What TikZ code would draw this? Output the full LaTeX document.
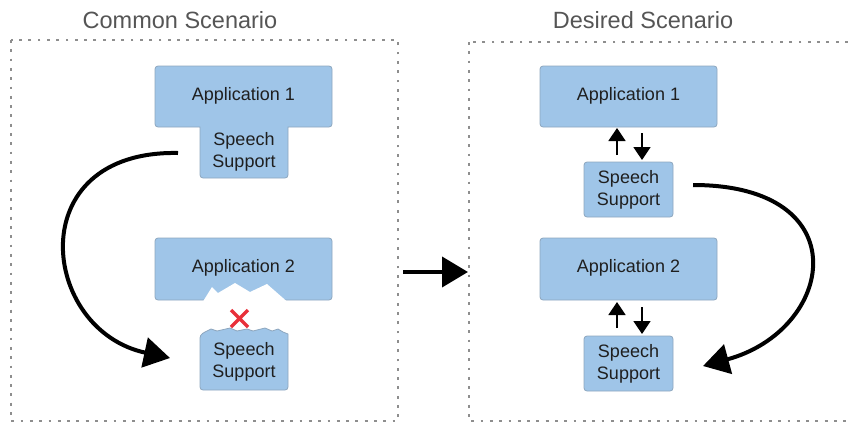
\documentclass[tikz,border=0pt]{standalone}
\usepackage{fontspec}
\setmainfont{Liberation Sans}
\usetikzlibrary{arrows.meta}
\definecolor{boxfill}{HTML}{9FC5E8}
\definecolor{boxline}{HTML}{8DA6BE}
\definecolor{dotgray}{HTML}{8E8E8E}
\definecolor{titlegray}{HTML}{555555}
\definecolor{xred}{HTML}{E8303A}
\tikzset{
  panel/.style={draw=dotgray, line width=2.8pt, dash pattern=on 2.8pt off 6.5pt},
  boxshape/.style={fill=boxfill, draw=boxline, line width=0.8pt, rounded corners=3pt},
  boxtext/.style={font=\fontsize{18}{22}\selectfont, text=black!88, align=center, inner sep=0pt},
  title/.style={font=\fontsize{23.5}{27}\selectfont, text=titlegray, inner sep=0pt},
  bigarrow/.style={line width=4pt, -{Triangle[length=26pt,width=30pt]}},
  smallarrow/.style={line width=1.8pt, -{Triangle[length=13pt,width=17pt]}}
}
\begin{document}
\begin{tikzpicture}[x=1pt,y=-1pt]
\useasboundingbox (0,0) rectangle (850,423);

% panels
\draw[panel] (11,40) rectangle (398,421);
\draw[panel] (469,42) rectangle (856,421);
\node[title] (t1) at (180,20) {Common Scenario};
\node[title] (t2) at (643,20) {Desired Scenario};

% ---------- left panel ----------
% Application 1 with attached Speech Support (T shape)
\draw[boxshape] (155,66) -- (332,66) -- (332,127) [sharp corners] -- (288,127)
  [rounded corners=3pt] -- (288,178) -- (200,178) [sharp corners] -- (200,127)
  [rounded corners=3pt] -- (155,127) -- cycle;
\node[boxtext] (la1) at (243.5,96) {Application 1};
\node[boxtext] (ls1) at (244,152) {Speech\\Support};

% Application 2 with broken bottom
\draw[boxshape] (155,238) rectangle (332,300);
\fill[white] (203,301.5) -- (212,287) -- (218,293) -- (235,283) -- (250,292)
  -- (267,284) -- (287,301.5) -- cycle;
\node[boxtext] (la2) at (243.5,268) {Application 2};

% Speech Support with broken top
\draw[boxshape] (200,390) -- (200,335) [sharp corners] -- (205,332) -- (211,329) -- (217,331)
  -- (230,328) -- (237,331) -- (247,329) -- (253,331) -- (265,328)
  -- (272,331) -- (278,329) -- (283,332) -- (288,334) [rounded corners=3pt]
  -- (288,390) -- cycle;
\node[boxtext] (ls2) at (244,362) {Speech\\Support};

% red cross
\coordinate (xc) at (239.5,318.5);
\draw[xred, line width=3.4pt] ([shift={(-8.5,-8.5)}]xc) -- ([shift={(8.5,8.5)}]xc)
  ([shift={(-8.5,8.5)}]xc) -- ([shift={(8.5,-8.5)}]xc);

% curved arrow left
\coordinate (lstart) at (178,153);
\coordinate (lend) at (170,358);
\draw[bigarrow] (lstart) .. controls (20,150) and (40,330) .. (lend);

% ---------- middle arrow ----------
\coordinate (mstart) at (403,272);
\coordinate (mend) at (468,272);
\draw[bigarrow] (mstart) -- (mend);

% ---------- right panel ----------
\draw[boxshape] (540,66) rectangle (717,127);
\node[boxtext] (ra1) at (628.5,96) {Application 1};
\draw[boxshape] (584,162) rectangle (673,217);
\node[boxtext] (rs1) at (628.5,189.5) {Speech\\Support};
\draw[boxshape] (540,238) rectangle (717,300);
\node[boxtext] (ra2) at (628.5,268) {Application 2};
\draw[boxshape] (584,336) rectangle (673,391);
\node[boxtext] (rs2) at (628.5,363.5) {Speech\\Support};

% small arrows
\draw[smallarrow] (617,155) -- (617,128);
\draw[smallarrow] (642,133) -- (642,160);
\draw[smallarrow] (617,328) -- (617,302);
\draw[smallarrow] (642,307) -- (642,334);

% curved arrow right
\coordinate (rstart) at (693,185);
\coordinate (rend) at (703,366);
\draw[bigarrow] (rstart) .. controls (860,185) and (835,330) .. (rend);
\end{tikzpicture}
\end{document}
